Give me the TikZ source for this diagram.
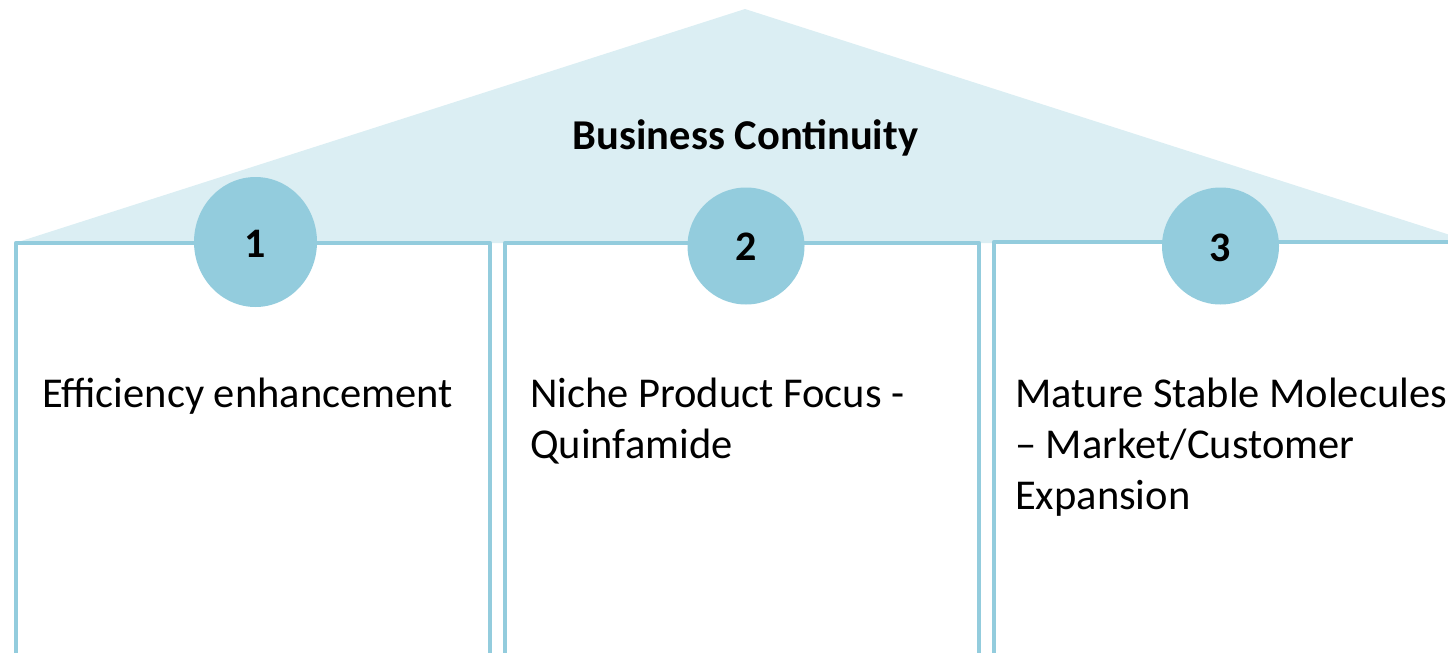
\documentclass[tikz,border=0pt]{standalone}
\usepackage{fontspec}
\setmainfont{Carlito}
\definecolor{roofc}{HTML}{DBEEF3}
\definecolor{pillar}{HTML}{93CCDD}
\tikzset{
  roof/.style={fill=roofc, draw=none},
  pillarbox/.style={draw=pillar, line width=4.5pt, line join=round},
  badge/.style={fill=pillar, draw=none},
  numtxt/.style={font=\fontsize{42}{50}\selectfont\bfseries, inner sep=0pt, anchor=base},
  bodytxt/.style={font=\fontsize{42.5}{51}\selectfont, inner sep=0pt, align=left, anchor=base west},
  titletxt/.style={font=\fontsize{42.5}{50}\selectfont\bfseries, inner sep=0pt, anchor=base}
}
\begin{document}
\begin{tikzpicture}[x=1pt,y=-1pt]
\useasboundingbox (0,0) rectangle (1448,653);
\clip (0,0) rectangle (1448,653);
\fill[roof] (15,243) -- (745,9) -- (1475,243) -- cycle;
\draw[pillarbox] (16,700) -- (16,243) -- (490,243) -- (490,700);
\draw[pillarbox] (505,700) -- (505,243) -- (979,243) -- (979,700);
\draw[pillarbox] (994,700) -- (994,242) -- (1500,242);
\fill[badge] (255.5,242) ellipse [x radius=61.5, y radius=65];
\fill[badge] (746,246) circle [radius=58.5];
\fill[badge] (1220.5,246) circle [radius=58.5];
\node[titletxt] (title) at (745.5,149) {Business Continuity};
\node[numtxt] (n1) at (255.5,257) {1};
\node[numtxt] (n2) at (746,260) {2};
\node[numtxt] (n3) at (1220.5,261) {3};
\node[bodytxt] (t1) at (42,407) {Efficiency enhancement};
\node[bodytxt] (t2) at (530,458) {Niche Product Focus -\\Quinfamide};
\node[bodytxt] (t3) at (1015,509) {Mature Stable Molecules\\– Market/Customer\\Expansion};
\end{tikzpicture}
\end{document}
